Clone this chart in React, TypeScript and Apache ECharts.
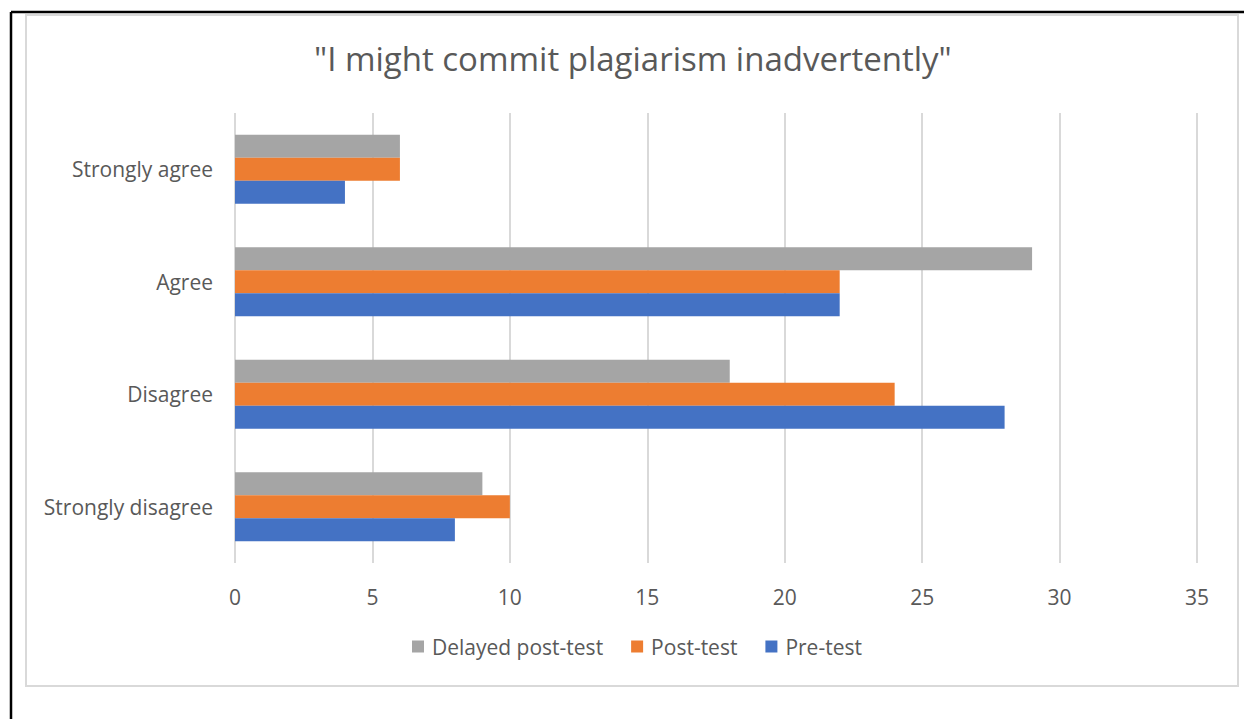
import React, { useEffect, useRef } from "react";
import * as echarts from "echarts";

const categories = ["Strongly disagree", "Disagree", "Agree", "Strongly agree"];
const delayedPostTest = [9, 18, 29, 6];
const postTest = [10, 24, 22, 6];
const preTest = [8, 28, 22, 4];
const seriesNames = ["Delayed post-test", "Post-test", "Pre-test"];
const xTicks = { min: 0, max: 35, interval: 5 };

const FONT = "Open Sans";
const TEXT = "#595959";

export default function App() {
  const ref = useRef<HTMLDivElement>(null);
  useEffect(() => {
    if (!ref.current) return;
    const chart = echarts.init(ref.current, undefined, { renderer: "svg" });
    const colors = ["#A5A5A5", "#ED7D31", "#4472C4"];
    const values = [delayedPostTest, postTest, preTest];
    chart.setOption({
      animation: false,
      backgroundColor: "#ffffff",
      textStyle: { fontFamily: FONT, color: TEXT },
      title: {
        text: '"I might commit plagiarism inadvertently"',
        left: 309,
        top: 37,
        textStyle: { fontFamily: FONT, fontSize: 33, fontWeight: "normal", color: TEXT },
      },
      graphic: [
        { type: "line", shape: { x1: 11, y1: 12, x2: 1244, y2: 12 }, style: { stroke: "#000", lineWidth: 2.5 } },
        { type: "line", shape: { x1: 11, y1: 12, x2: 11, y2: 719 }, style: { stroke: "#000", lineWidth: 2.5 } },
        { type: "rect", shape: { x: 26, y: 15, width: 1212, height: 671 }, style: { fill: "none", stroke: "#D9D9D9", lineWidth: 2 } },
      ],
      legend: {
        data: seriesNames,
        left: 407,
        top: 631,
        icon: "rect",
        itemWidth: 12,
        itemHeight: 12,
        itemGap: 28,
        textStyle: { fontFamily: FONT, fontSize: 21, color: TEXT, padding: [0, 0, 0, 3] },
      },
      grid: { left: 235, right: 47, top: 113, bottom: 156 },
      xAxis: {
        type: "value",
        min: xTicks.min,
        max: xTicks.max,
        interval: xTicks.interval,
        axisLine: { show: false },
        axisTick: { show: false },
        axisLabel: { color: TEXT, fontSize: 21, fontFamily: FONT, margin: 23 },
        splitLine: { show: true, lineStyle: { color: "#D9D9D9", width: 2 } },
      },
      yAxis: {
        type: "category",
        data: categories,
        axisLine: { show: false },
        axisTick: { show: false },
        axisLabel: { color: TEXT, fontSize: 21, fontFamily: FONT, margin: 22 },
      },
      series: seriesNames.map((name, i) => ({
        name,
        type: "bar",
        data: values[i],
        itemStyle: { color: colors[i] },
        barWidth: 23,
        barGap: "0%",
      })),
    });
    return () => chart.dispose();
  }, []);
  return (
    <div
      ref={ref}
      style={{ position: "fixed", left: 0, top: 0, width: 1244, height: 719 }}
    />
  );
}
